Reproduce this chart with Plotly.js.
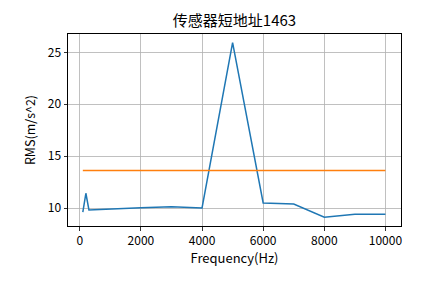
<!DOCTYPE html>
<html>
<head>
<meta charset="utf-8">
<script src="https://cdn.plot.ly/plotly-3.0.1.min.js"></script>
<style>html,body{margin:0;padding:0;background:#fff;}#chart{width:445px;height:283px;}</style>
</head>
<body>
<div id="chart"></div>
<script>
const freq = [100, 200, 300, 1000, 2000, 3000, 4000, 5000, 6000, 7000, 8000, 9000, 10000];
const rms = [9.62, 11.44, 9.84, 9.95, 10.05, 10.15, 10.03, 25.92, 10.51, 10.41, 9.13, 9.42, 9.42];
const thresholdX = [100, 10000];
const thresholdY = [13.62, 13.62];
const titleText = '传感器短地址1463';
const xLabel = 'Frequency(Hz)';
const yLabel = 'RMS(m/s^2)';

const font = '"Noto Sans CJK SC", "DejaVu Sans", sans-serif';
const traces = [
  {x: freq, y: rms, mode: 'lines', line: {color: '#1f77b4', width: 1.5}},
  {x: thresholdX, y: thresholdY, mode: 'lines', line: {color: '#ff7f0e', width: 1.5}}
];
const axisCommon = {
  showline: true, mirror: true, linecolor: '#000', linewidth: 1,
  ticks: 'outside', ticklen: 3.5, tickwidth: 0.8, tickcolor: '#000',
  showgrid: true, gridcolor: '#b0b0b0', gridwidth: 0.8, zeroline: false,
  tickfont: {family: font, size: 12, color: '#000'}, tickformat: 'd'
};
const layout = {
  width: 445, height: 283,
  margin: {l: 68, r: 44, t: 34, b: 57},
  paper_bgcolor: '#fff', plot_bgcolor: '#fff',
  showlegend: false,
  title: {text: titleText, x: 0.527, xanchor: 'center', y: 0.928, yanchor: 'middle', font: {family: font, size: 15, color: '#000'}},
  xaxis: Object.assign({}, axisCommon, {
    range: [-385, 10509], tickmode: 'linear', tick0: 0, dtick: 2000,
    title: {text: xLabel, font: {family: font, size: 13, color: '#000'}, standoff: 5}
  }),
  yaxis: Object.assign({}, axisCommon, {
    range: [8.29, 26.76], tickmode: 'linear', tick0: 0, dtick: 5,
    title: {text: yLabel, font: {family: font, size: 12.5, color: '#000'}, standoff: 9}
  })
};
Plotly.newPlot('chart', traces, layout, {displayModeBar: false, staticPlot: true});
</script>
</body>
</html>
